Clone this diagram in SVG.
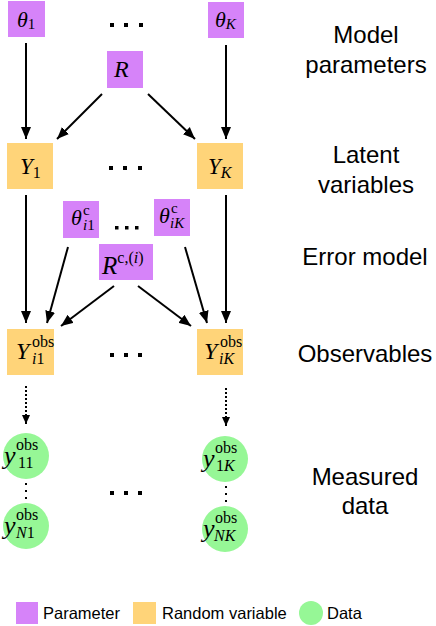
<svg xmlns="http://www.w3.org/2000/svg" width="436" height="626" viewBox="0 0 436 626">
<defs>
<marker id="ah" markerUnits="userSpaceOnUse" markerWidth="13" markerHeight="11" refX="12" refY="5.5" orient="auto">
<path d="M0,0.5 L12,5.5 L0,10.5 Z" fill="#000"/>
</marker>
<marker id="ahs" markerUnits="userSpaceOnUse" markerWidth="10" markerHeight="9" refX="9" refY="4.5" orient="auto">
<path d="M0,0.5 L9,4.5 L0,8.5 Z" fill="#000"/>
</marker>
</defs>
<style>
.par{fill:#D683F9}
.rv{fill:#FFD479}
.dat{fill:#96F796}
.m{font-family:"Liberation Serif","Times New Roman",serif;font-style:italic;fill:#000}
.r{font-style:normal}
.lab{font-family:"Liberation Sans",Arial,sans-serif;font-size:24px;fill:#000;text-anchor:middle}
.leg{font-family:"Liberation Sans",Arial,sans-serif;font-size:16.5px;fill:#000}
.ln{stroke:#000;stroke-width:2;fill:none;marker-end:url(#ah)}
.dl{stroke:#000;stroke-width:2;fill:none;stroke-dasharray:2,2;marker-end:url(#ahs)}
.dot{fill:#000}
</style>
<rect width="436" height="626" fill="#fff"/>

<g id="connectors">
<line class="ln" x1="26" y1="43" x2="26" y2="139"/>
<line class="ln" x1="102" y1="94" x2="57" y2="139"/>
<line class="ln" x1="148" y1="94" x2="195" y2="139"/>
<line class="ln" x1="226" y1="45" x2="226" y2="139"/>
<line class="ln" x1="26" y1="195" x2="26" y2="323"/>
<line class="ln" x1="68" y1="247" x2="47" y2="323"/>
<line class="ln" x1="114" y1="286" x2="61" y2="326"/>
<line class="ln" x1="138" y1="286" x2="191" y2="326"/>
<line class="ln" x1="185" y1="247" x2="207" y2="323"/>
<line class="ln" x1="226" y1="195" x2="226" y2="323"/>
<line class="dl" x1="26" y1="386" x2="26" y2="424"/>
<line class="dl" x1="226" y1="388" x2="226" y2="426"/>
</g>

<g id="dots">
<rect class="dot" x="110" y="23" width="4" height="4"/><rect class="dot" x="124" y="23" width="4" height="4"/><rect class="dot" x="139" y="23" width="4" height="4"/>
<rect class="dot" x="109" y="166" width="4" height="4"/><rect class="dot" x="123" y="166" width="4" height="4"/><rect class="dot" x="138" y="166" width="4" height="4"/>
<rect class="dot" x="115" y="226" width="3.5" height="3.5"/><rect class="dot" x="125" y="226" width="3.5" height="3.5"/><rect class="dot" x="135" y="226" width="3.5" height="3.5"/>
<rect class="dot" x="110" y="353" width="4" height="4"/><rect class="dot" x="124" y="353" width="4" height="4"/><rect class="dot" x="138" y="353" width="4" height="4"/>
<rect class="dot" x="110" y="491" width="4" height="4"/><rect class="dot" x="124" y="491" width="4" height="4"/><rect class="dot" x="138" y="491" width="4" height="4"/>
<rect class="dot" x="25" y="483" width="2" height="2"/><rect class="dot" x="25" y="490" width="2" height="2"/><rect class="dot" x="25" y="497" width="2" height="2"/>
<rect class="dot" x="225" y="486" width="2" height="2"/><rect class="dot" x="225" y="493" width="2" height="2"/><rect class="dot" x="225" y="500" width="2" height="2"/>
</g>

<g id="theta1">
<rect class="par" x="8" y="1" width="37" height="36"/>
<text class="m" x="17" y="27" font-size="22">θ<tspan class="r" font-size="15" dy="2">1</tspan></text>
</g>
<g id="thetaK">
<rect class="par" x="208" y="2" width="36" height="36"/>
<text class="m" x="215" y="27" font-size="22">θ<tspan font-size="15" dy="2">K</tspan></text>
</g>
<g id="R">
<rect class="par" x="107" y="51" width="36" height="37"/>
<text class="m" x="114" y="77" font-size="24">R</text>
</g>
<g id="Y1">
<rect class="rv" x="7" y="143" width="46" height="46"/>
<text class="m" x="20" y="174" font-size="23">Y<tspan class="r" font-size="16" dy="4">1</tspan></text>
</g>
<g id="YK">
<rect class="rv" x="197" y="143" width="46" height="46"/>
<text class="m" x="208" y="174" font-size="23">Y<tspan font-size="16" dy="4">K</tspan></text>
</g>
<g id="thetac_i1">
<rect class="par" x="63" y="201" width="36" height="37"/>
<text class="m" x="71" y="225" font-size="22">θ</text>
<text class="m" x="83" y="215" font-size="15"><tspan class="r">c</tspan></text>
<text class="m" x="83" y="230" font-size="15">i<tspan class="r">1</tspan></text>
</g>
<g id="thetac_iK">
<rect class="par" x="154" y="199" width="36" height="37"/>
<text class="m" x="159" y="223" font-size="22">θ</text>
<text class="m" x="171" y="213" font-size="15"><tspan class="r">c</tspan></text>
<text class="m" x="170" y="228" font-size="15">iK</text>
</g>
<g id="Rc">
<rect class="par" x="99" y="244" width="54" height="36"/>
<text class="m" x="102" y="274" font-size="25">R<tspan class="r" font-size="16" dy="-11">c,(<tspan class="m" font-size="16">i</tspan>)</tspan></text>
</g>
<g id="Yobs_i1">
<rect class="rv" x="7" y="329" width="47" height="46"/>
<text class="m" x="16" y="359" font-size="24">Y</text>
<text class="m" x="32" y="347" font-size="16" style="font-style:normal">obs</text>
<text class="m" x="32" y="364" font-size="16">i<tspan class="r">1</tspan></text>
</g>
<g id="Yobs_iK">
<rect class="rv" x="197" y="329" width="46" height="46"/>
<text class="m" x="204" y="359" font-size="24">Y</text>
<text class="m" x="220" y="347" font-size="16" style="font-style:normal">obs</text>
<text class="m" x="219" y="364" font-size="16">iK</text>
</g>
<g id="y11">
<circle class="dat" cx="26" cy="456" r="23"/>
<text class="m" x="4" y="464" font-size="26">y</text>
<text class="m" x="16" y="450" font-size="16" style="font-style:normal">obs</text>
<text class="m" x="18" y="468" font-size="16" style="font-style:normal">11</text>
</g>
<g id="yN1">
<circle class="dat" cx="26" cy="526" r="23"/>
<text class="m" x="4" y="534" font-size="26">y</text>
<text class="m" x="16" y="520" font-size="16" style="font-style:normal">obs</text>
<text class="m" x="16" y="538" font-size="16">N<tspan class="r">1</tspan></text>
</g>
<g id="y1K">
<circle class="dat" cx="225" cy="459" r="23"/>
<text class="m" x="203" y="467" font-size="26">y</text>
<text class="m" x="215" y="453" font-size="16" style="font-style:normal">obs</text>
<text class="m" x="216" y="471" font-size="16"><tspan class="r">1</tspan>K</text>
</g>
<g id="yNK">
<circle class="dat" cx="225" cy="529" r="23"/>
<text class="m" x="203" y="537" font-size="26">y</text>
<text class="m" x="215" y="523" font-size="16" style="font-style:normal">obs</text>
<text class="m" x="214" y="541" font-size="16">NK</text>
</g>

<g id="labels">
<text class="lab" x="366" y="43">Model</text>
<text class="lab" x="366" y="73">parameters</text>
<text class="lab" x="366" y="163">Latent</text>
<text class="lab" x="366" y="193">variables</text>
<text class="lab" x="365" y="265">Error model</text>
<text class="lab" x="365" y="362">Observables</text>
<text class="lab" x="365" y="485">Measured</text>
<text class="lab" x="365" y="514">data</text>
</g>

<g id="legend">
<rect class="par" x="16" y="602" width="22" height="22"/>
<text class="leg" x="43" y="619">Parameter</text>
<rect class="rv" x="133" y="602" width="23" height="22"/>
<text class="leg" x="162" y="619">Random variable</text>
<circle class="dat" cx="311" cy="613" r="12"/>
<text class="leg" x="327" y="619">Data</text>
</g>
</svg>
